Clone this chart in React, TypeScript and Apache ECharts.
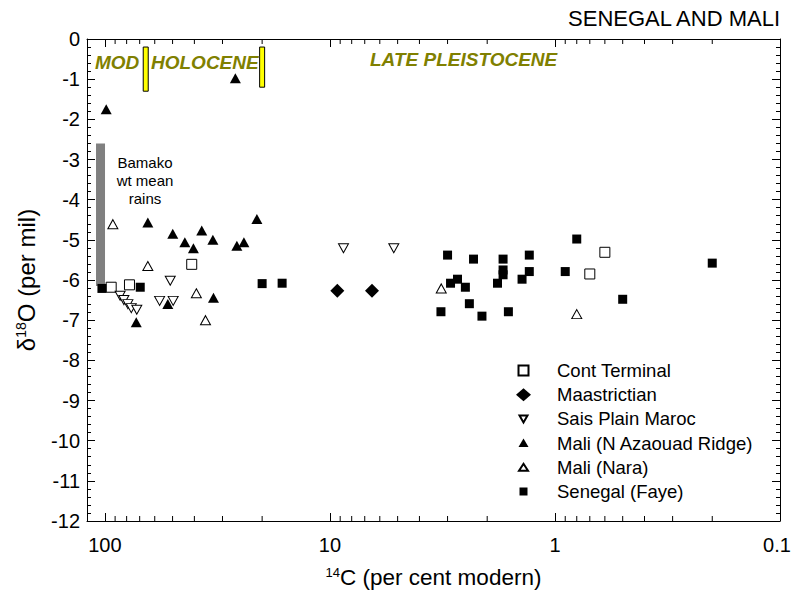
import React, { useEffect, useRef } from 'react';
import * as echarts from 'echarts';

const FONT = '"Liberation Sans", Arial, sans-serif';

// [14C pmc, d18O]
const contTerminal = [[93.7, -6.18], [77.7, -6.12], [41.1, -5.61], [0.70, -5.85], [0.60, -5.31]];
const maastrictian = [[9.27, -6.27], [6.5, -6.27]];
const saisPlain = [[85.5, -6.39], [82.3, -6.5], [79.0, -6.6], [76.3, -6.7], [72.1, -6.74], [57.1, -6.52], [51.2, -6.02], [49.7, -6.52], [8.7, -5.21], [5.2, -5.21]];
const maliAzaouad = [[98.6, -1.75], [26.3, -0.98], [64.4, -4.57], [49.9, -4.85], [44.1, -5.06], [40.4, -5.21], [37.1, -4.77], [33.1, -5.0], [25.9, -5.15], [24.1, -5.06], [21.1, -4.48], [52.5, -6.6], [32.9, -6.44], [72.5, -7.05]];
const maliNara = [[92.1, -4.61], [64.4, -5.65], [39.2, -6.33], [35.7, -7.0], [3.2, -6.21], [0.80, -6.85]];
const senegalFaye = [[103, -6.21], [69.6, -6.18], [20.0, -6.09], [16.3, -6.08], [3.21, -6.79], [3.0, -5.38], [2.91, -6.08], [2.71, -5.98], [2.5, -6.18], [2.4, -6.59], [2.3, -5.48], [2.11, -6.9], [1.8, -6.08], [1.7, -5.48], [1.7, -5.75], [1.7, -5.87], [1.61, -6.79], [1.4, -5.98], [1.3, -5.38], [1.3, -5.79], [0.9, -5.79], [0.8, -4.98], [0.5, -6.48], [0.2, -5.58]];

// [x, yTop, yBottom]
const bamakoBar = [[104.5, -2.6, -6.15]];
const periodBars = [[65.8, -0.2, -1.3], [20.0, -0.2, -1.2]];

const xMajorLabels = [100, 10, 1, 0.1];
const xMinorTicks = [90, 80, 70, 60, 50, 40, 30, 20, 9, 8, 7, 6, 5, 4, 3, 2, 0.9, 0.8, 0.7, 0.6, 0.5, 0.4, 0.3, 0.2];
const legendNames = ['Cont Terminal', 'Maastrictian', 'Sais Plain Maroc', 'Mali (N Azaouad Ridge)', 'Mali (Nara)', 'Senegal (Faye)'];

// legend icons drawn in a 15x15 box (the leading moves keep the box size)
const PAD = 'M0 0M15 15';
const legendIcons = [
  `path://${PAD}M2.5 2.5L12.5 2.5L12.5 12.5L2.5 12.5Z`,
  `path://${PAD}M7.5 1L15 7.5L7.5 14L0 7.5Z`,
  `path://${PAD}M3.5 4L11.5 4L7.5 11Z`,
  `path://${PAD}M7.5 3L12.5 11.5L2.5 11.5Z`,
  `path://${PAD}M7.5 4L12 11L3 11Z`,
  `path://${PAD}M3.5 3.5L11.5 3.5L11.5 11.5L3.5 11.5Z`,
];

const X_MIN = 0.1;
const X_MAX = 120;

function xLabel(v: number): string {
  const l = Math.log10(v);
  const r = Math.round(l);
  if (Math.abs(l - r) > 1e-6) return '';
  const m = xMajorLabels.find((k) => Math.abs(Math.log10(k) - r) < 1e-6);
  if (m === undefined) return '';
  return m < 1 ? `{e|${m}}` : String(m);
}

export default function App() {
  const ref = useRef<HTMLDivElement>(null);
  useEffect(() => {
    const chart = echarts.init(ref.current!, null, { renderer: 'svg' });
    const axisLine = { show: true, onZero: false, lineStyle: { color: '#000', width: 1 } };
    const supRich = (size: number) => ({
      sup: { fontSize: size, fontFamily: FONT, color: '#000', verticalAlign: 'top' as const, padding: [0, 0, 8, 0] },
    });
    const xBase = {
      type: 'log' as const,
      logBase: 10,
      min: X_MIN,
      max: X_MAX,
      inverse: true,
      axisLine,
      axisTick: { show: true, inside: true, length: 8, lineStyle: { color: '#000', width: 1 } },
      splitLine: { show: false },
    };
    const yBase = {
      type: 'value' as const,
      min: -12,
      max: 0,
      interval: 1,
      axisLine,
      axisTick: { show: true, inside: true, length: 8, lineStyle: { color: '#000', width: 1 } },
      minorTick: { show: true, splitNumber: 5, length: 4, lineStyle: { color: '#000', width: 1 } },
      splitLine: { show: false },
      minorSplitLine: { show: false },
    };
    const textBase = { fontFamily: FONT, fill: '#000' };
    const periodStyle = { fontFamily: FONT, fontSize: 19, fontWeight: 'bold', fontStyle: 'italic', fill: '#808000', align: 'left', verticalAlign: 'middle' };

    const barRender = (w: number, fill: string, stroke: string | null) => (params: any, api: any) => {
      const x = api.value(0);
      const p1 = api.coord([x, api.value(1)]);
      const p2 = api.coord([x, api.value(2)]);
      return {
        type: 'rect',
        shape: { x: p1[0] - w / 2, y: p1[1], width: w, height: p2[1] - p1[1] },
        style: { fill, stroke: stroke || 'none', lineWidth: stroke ? 1 : 0 },
      };
    };

    const scatterCommon = { type: 'scatter' as const, xAxisIndex: 0, yAxisIndex: 0, silent: true, z: 5 };

    chart.setOption({
      animation: false,
      backgroundColor: '#fff',
      grid: { left: 87, right: 11, top: 39, bottom: 81, containLabel: false, outerBoundsMode: 'none' },
      xAxis: [
        {
          ...xBase,
          position: 'bottom',
          axisLabel: {
            show: true, margin: 14, fontSize: 20, color: '#000', fontFamily: FONT, formatter: xLabel,
            showMinLabel: true, showMaxLabel: true,
            rich: { e: { fontSize: 20, fontFamily: FONT, color: '#000', padding: [0, 6, 0, 0] } },
          },
          name: '{sup|14}C (per cent modern)',
          nameLocation: 'middle',
          nameGap: 45,
          nameTextStyle: { fontSize: 22.5, fontFamily: FONT, color: '#000', rich: supRich(13) },
        },
        {
          ...xBase,
          position: 'top',
          axisLabel: { show: false },
        },
      ],
      yAxis: [
        {
          ...yBase,
          position: 'left',
          axisLabel: { show: true, margin: 7, fontSize: 20, color: '#000', fontFamily: FONT },
          name: 'δ{sup|18}O (per mil)',
          nameLocation: 'middle',
          nameGap: 49,
          nameTextStyle: { fontSize: 24, fontFamily: FONT, color: '#000', rich: supRich(14) },
        },
        {
          ...yBase,
          position: 'right',
          axisLabel: { show: false },
        },
      ],
      legend: {
        orient: 'vertical',
        left: 515,
        top: 361,
        padding: 0,
        itemWidth: 15,
        itemHeight: 15,
        itemGap: 5.2,
        symbolKeepAspect: true,
        selectedMode: false,
        textStyle: { fontSize: 18.5, color: '#000', fontFamily: FONT, lineHeight: 18, padding: [0, 0, 0, 21] },
        data: legendNames.map((name, i) => ({ name, icon: legendIcons[i], symbolRotate: 0 })),
      },
      graphic: [
        { type: 'text', x: 780, y: 18, style: { ...textBase, text: 'SENEGAL AND MALI', fontSize: 22, align: 'right', verticalAlign: 'middle' } },
        { type: 'text', x: 95, y: 62, z: 10, style: { ...periodStyle, text: 'MOD' } },
        { type: 'text', x: 151, y: 62, z: 10, style: { ...periodStyle, text: 'HOLOCENE' } },
        { type: 'text', x: 370, y: 59.5, z: 10, style: { ...periodStyle, text: 'LATE PLEISTOCENE' } },
        { type: 'text', x: 145, y: 180, z: 10, style: { ...textBase, text: 'Bamako\nwt mean\nrains', fontSize: 15, lineHeight: 18, align: 'center', verticalAlign: 'middle' } },
      ],
      series: [
        {
          type: 'custom',
          name: 'xMinorTicks',
          silent: true,
          clip: false,
          z: 3,
          xAxisIndex: 0,
          yAxisIndex: 0,
          encode: { x: 0, y: 1 },
          data: xMinorTicks.map((v) => [v, -12]),
          renderItem: (params: any, api: any) => {
            const cs = params.coordSys;
            const px = api.coord([api.value(0), -12])[0];
            const yb = cs.y + cs.height;
            const yt = cs.y;
            return {
              type: 'group',
              children: [
                { type: 'line', shape: { x1: px, y1: yb, x2: px, y2: yb - 5 }, style: { stroke: '#000', lineWidth: 1 } },
                { type: 'line', shape: { x1: px, y1: yt, x2: px, y2: yt + 5 }, style: { stroke: '#000', lineWidth: 1 } },
              ],
            };
          },
        },
        {
          type: 'custom',
          name: 'Bamako',
          silent: true,
          z: 1,
          xAxisIndex: 0,
          yAxisIndex: 0,
          encode: { x: 0, y: [1, 2] },
          data: bamakoBar,
          renderItem: barRender(9, '#808080', null),
        },
        {
          type: 'custom',
          name: 'Periods',
          silent: true,
          z: 1,
          xAxisIndex: 0,
          yAxisIndex: 0,
          encode: { x: 0, y: [1, 2] },
          data: periodBars,
          renderItem: barRender(5, '#ffff00', '#000'),
        },
        {
          ...scatterCommon,
          name: 'Cont Terminal',
          data: contTerminal,
          symbol: 'rect',
          symbolSize: 10,
          itemStyle: { color: '#fff', borderColor: '#000', borderWidth: 1, opacity: 1 },
        },
        {
          ...scatterCommon,
          name: 'Maastrictian',
          data: maastrictian,
          symbol: 'diamond',
          symbolSize: 14,
          itemStyle: { color: '#000', opacity: 1 },
        },
        {
          ...scatterCommon,
          name: 'Sais Plain Maroc',
          data: saisPlain,
          symbol: 'triangle',
          symbolRotate: 180,
          symbolSize: [10, 9],
          itemStyle: { color: '#fff', borderColor: '#000', borderWidth: 1, opacity: 1 },
        },
        {
          ...scatterCommon,
          name: 'Mali (N Azaouad Ridge)',
          data: maliAzaouad,
          symbol: 'triangle',
          symbolSize: [11, 10],
          itemStyle: { color: '#000', opacity: 1 },
        },
        {
          ...scatterCommon,
          name: 'Mali (Nara)',
          data: maliNara,
          symbol: 'triangle',
          symbolSize: [10, 9],
          itemStyle: { color: '#fff', borderColor: '#000', borderWidth: 1, opacity: 1 },
        },
        {
          ...scatterCommon,
          name: 'Senegal (Faye)',
          data: senegalFaye,
          symbol: 'rect',
          symbolSize: 9,
          itemStyle: { color: '#000', opacity: 1 },
        },
      ],
    });
    return () => chart.dispose();
  }, []);
  return <div ref={ref} style={{ position: 'absolute', left: 0, top: 0, width: 791, height: 602 }} />;
}
